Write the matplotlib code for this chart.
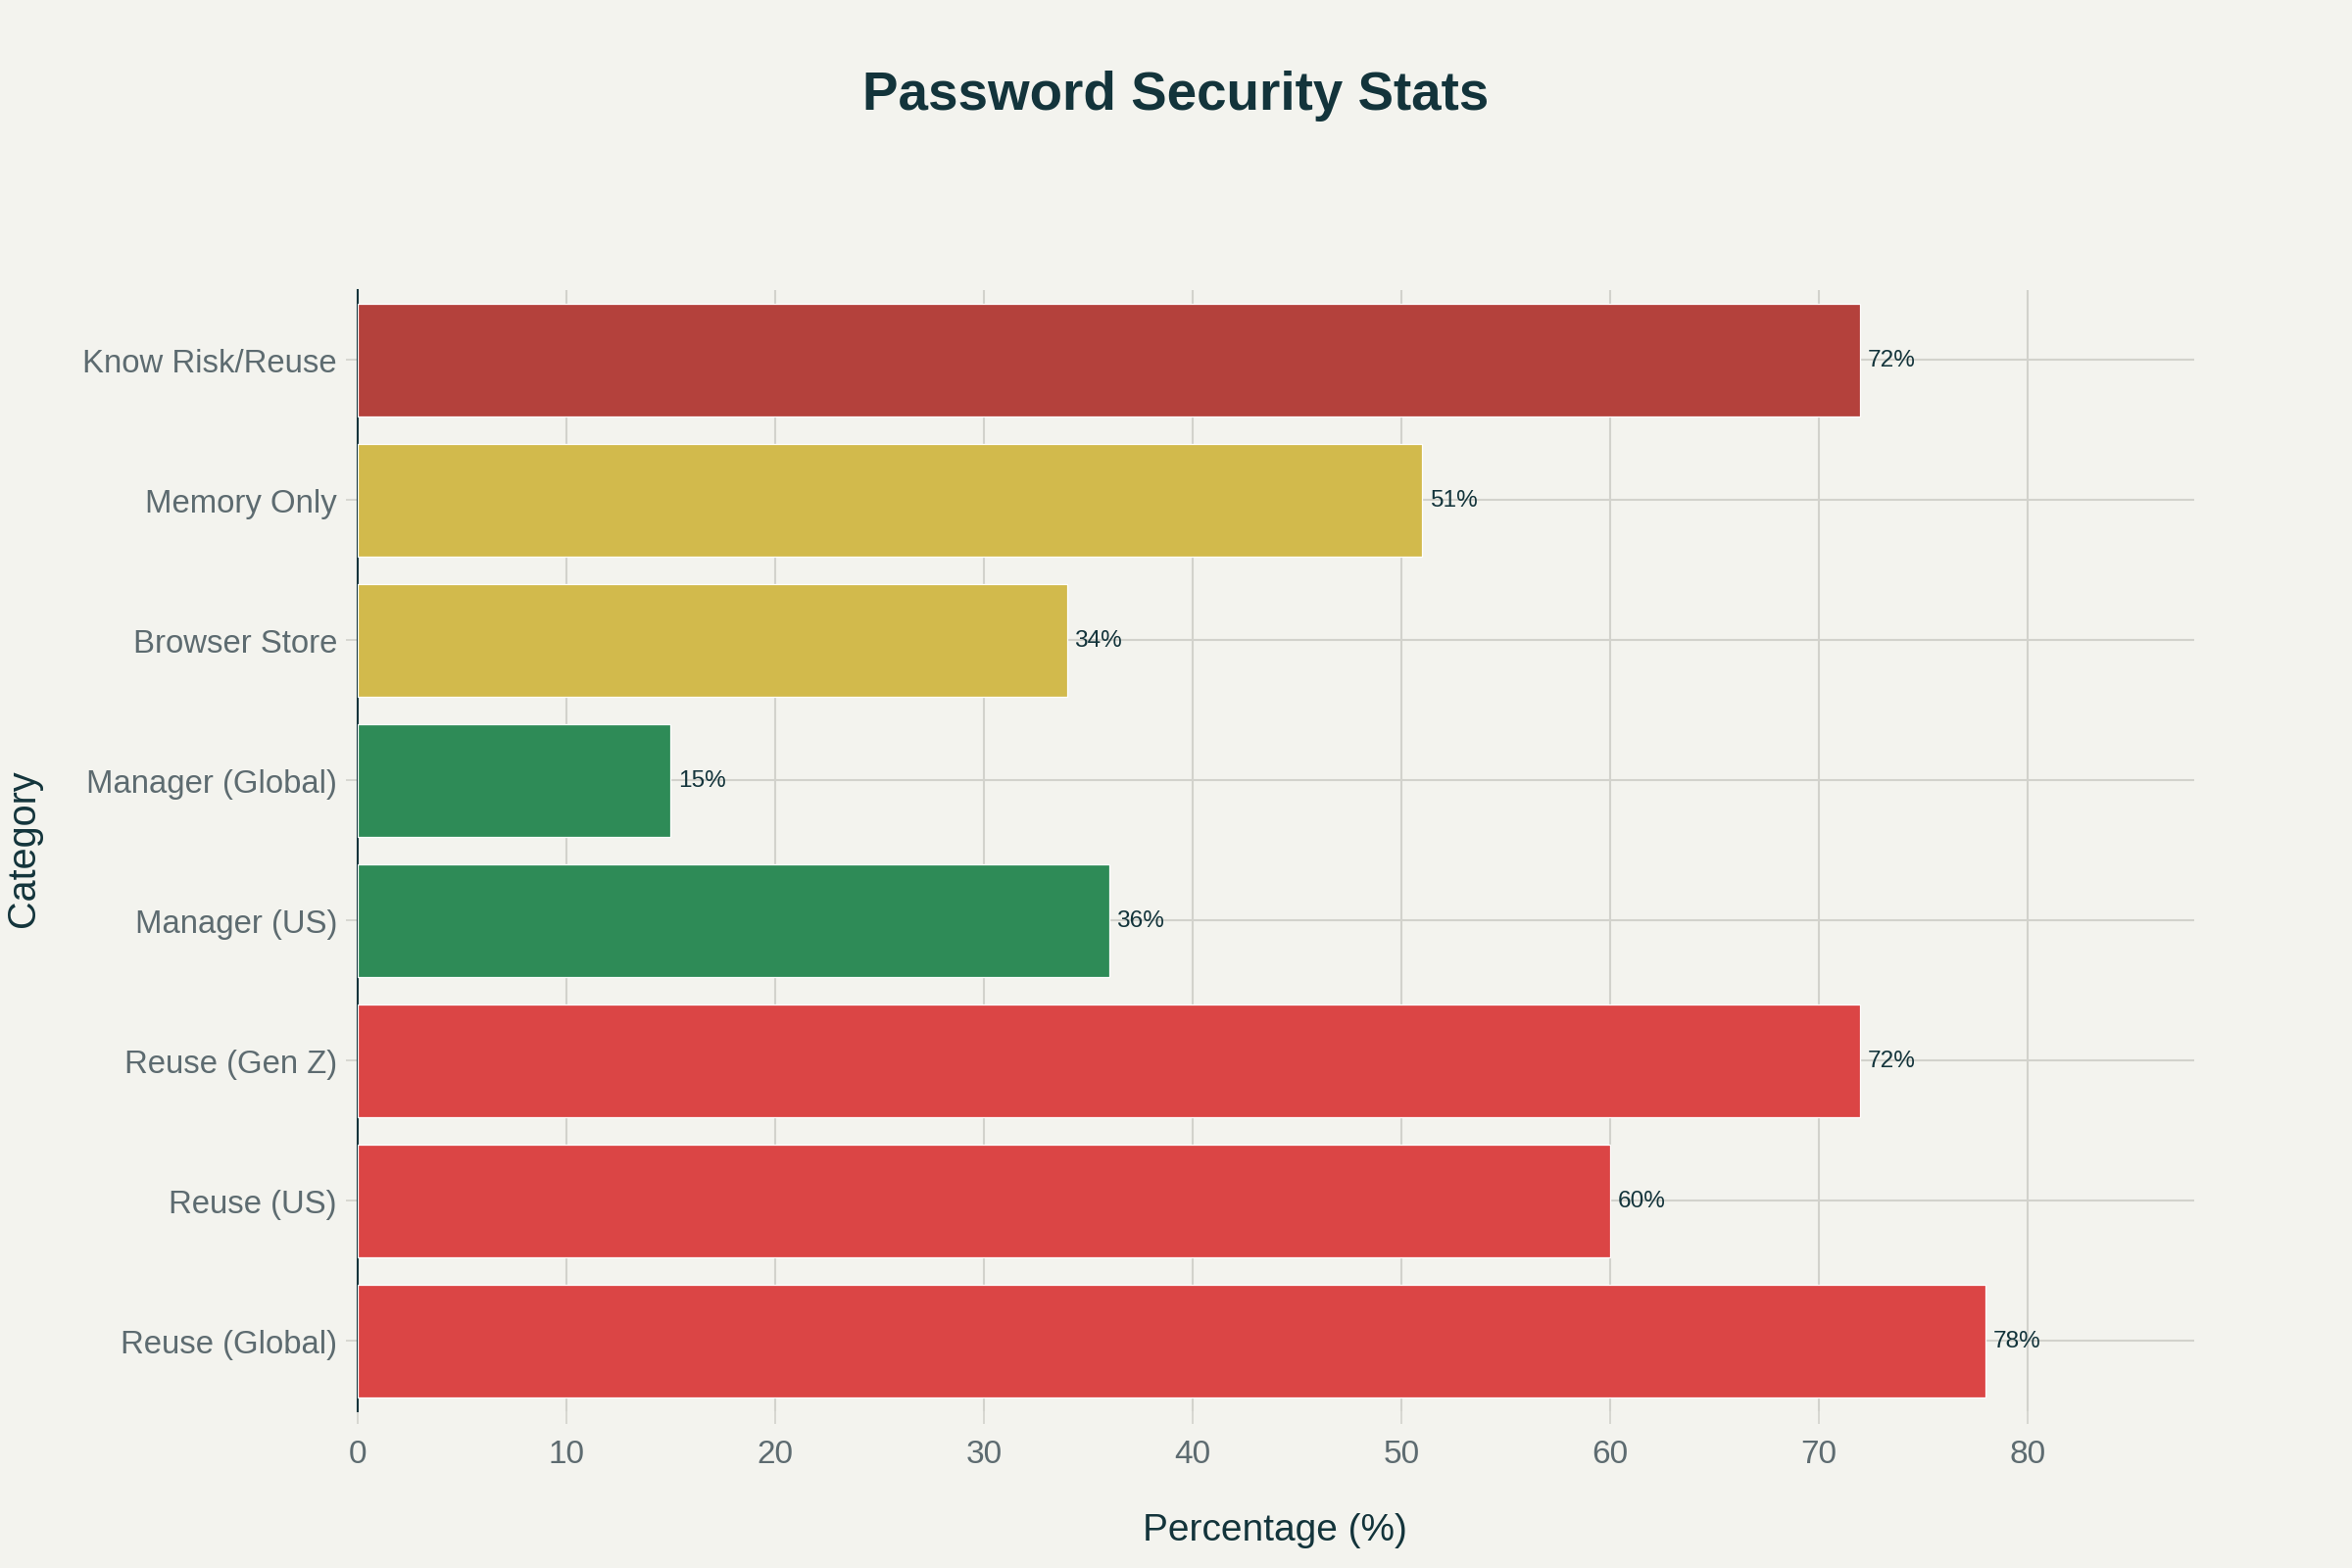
import matplotlib
matplotlib.use('Agg')
import matplotlib.pyplot as plt

# Data (bottom to top)
categories = ['Reuse (Global)', 'Reuse (US)', 'Reuse (Gen Z)', 'Manager (US)',
              'Manager (Global)', 'Browser Store', 'Memory Only', 'Know Risk/Reuse']
values = [78, 60, 72, 36, 15, 34, 51, 72]
colors = ['#DB4545', '#DB4545', '#DB4545', '#2E8B57',
          '#2E8B57', '#D2BA4C', '#D2BA4C', '#B4413C']

bg = '#F3F3EE'
dark = '#13343B'
grey = '#5D6B70'

plt.rcParams['font.family'] = ['Liberation Sans', 'DejaVu Sans']

fig = plt.figure(figsize=(16, 10.6667), dpi=150, facecolor=bg)
ax = fig.add_axes([0.152, 0.1, 0.781, 0.715], facecolor=bg)

y = range(len(categories))
ax.barh(y, values, height=0.8, color=colors, edgecolor='#FFFFFF', linewidth=0.6, zorder=3)

for yi, v in zip(y, values):
    ax.text(v + 0.35, yi, f'{v}%', va='center', ha='left', fontsize=11.7, color=dark, zorder=4)

ax.set_xlim(0, 88)
ax.set_ylim(-0.5, len(categories) - 0.5)
ax.set_xticks(range(0, 81, 10))
ax.set_yticks(list(y))
ax.set_yticklabels(categories)

ax.grid(True, color='#D2D2CC', linewidth=1.0, zorder=0)
for s in ['top', 'right', 'bottom']:
    ax.spines[s].set_visible(False)
ax.spines['left'].set_color(dark)
ax.spines['left'].set_linewidth(1.0)

ax.tick_params(axis='x', colors='#D2D2CC', labelcolor=grey, labelsize=16, length=6, pad=8)
ax.tick_params(axis='y', colors='#D2D2CC', labelcolor=grey, labelsize=15.8, length=6, pad=4)

fig.text(0.542, 0.024, 'Percentage (%)', ha='center', va='center', fontsize=18.7, color=dark)
fig.text(0.01, 0.459, 'Category', ha='center', va='center', rotation=90, fontsize=19, color=dark)
fig.text(0.5, 0.939, 'Password Security Stats', ha='center', va='center',
         fontsize=26.3, fontweight='bold', color=dark)

plt.savefig('out.png', dpi=150, facecolor=bg)
